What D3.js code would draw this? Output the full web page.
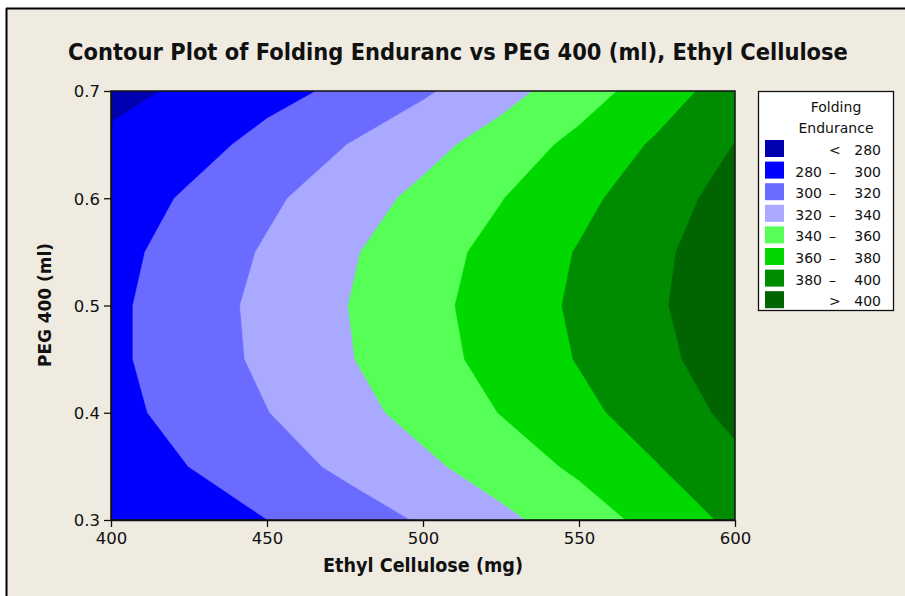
<!DOCTYPE html>
<html>
<head>
<meta charset="utf-8">
<script src="https://cdn.jsdelivr.net/npm/d3@7"></script>
<style>
  html, body { margin: 0; padding: 0; background: #ffffff; }
  svg { display: block; }
  text { font-family: "DejaVu Sans", Verdana, sans-serif; fill: #111; }
</style>
</head>
<body>
<svg id="chart" width="905" height="596"></svg>
<script>
// Design points of the response surface
const ethylCellulose = [400, 425, 450, 475, 500, 525, 550, 575, 600];   // mg
const peg400 = [0.30, 0.35, 0.40, 0.45, 0.50, 0.55, 0.60, 0.65, 0.70]; // ml

// Folding endurance on the grid, one row per PEG 400 level (low to high)
const enduranceAtPeg030 = [283.0, 289.8, 299.9, 310.6, 321.8, 335.4, 349.8, 366.8, 384.5];
const enduranceAtPeg035 = [289.4, 300.1, 311.7, 323.5, 335.9, 349.3, 363.6, 379.2, 395.6];
const enduranceAtPeg040 = [294.1, 306.7, 319.5, 332.9, 346.6, 360.6, 374.9, 389.5, 404.4];
const enduranceAtPeg045 = [296.1, 310.0, 324.0, 338.2, 352.4, 366.7, 381.1, 395.4, 409.7];
const enduranceAtPeg050 = [295.9, 310.5, 325.0, 339.4, 354.0, 368.6, 383.2, 397.8, 412.3];
const enduranceAtPeg055 = [293.9, 307.9, 322.1, 337.1, 351.6, 366.2, 381.2, 396.3, 411.5];
const enduranceAtPeg060 = [288.8, 302.6, 316.3, 330.4, 344.7, 359.3, 374.8, 391.1, 407.7];
const enduranceAtPeg065 = [283.5, 292.5, 306.1, 319.7, 333.5, 348.6, 365.3, 382.7, 400.5];
const enduranceAtPeg070 = [275.0, 283.0, 293.6, 303.8, 317.2, 332.8, 350.5, 370.0, 390.0];

// Contour levels and legend
const levels = [280, 300, 320, 340, 360, 380, 400];
const bandColors = ["#0000b0", "#0000ff", "#6b6bff", "#a9a9ff", "#55ff55", "#00d800", "#008c00", "#006400"];
const bandLow  = ["", "280", "300", "320", "340", "360", "380", ""];
const bandSym  = ["<", "–", "–", "–", "–", "–", "–", ">"];
const bandHigh = ["280", "300", "320", "340", "360", "380", "400", "400"];

const xTicks = [400, 450, 500, 550, 600];
const yTicks = [0.3, 0.4, 0.5, 0.6, 0.7];

const svg = d3.select("#chart");
const W = 905, H = 596;
const plot = { left: 111, right: 735, top: 91, bottom: 520 };

// Page frame
svg.append("rect").attr("x", 0).attr("y", 0).attr("width", W).attr("height", H).attr("fill", "#ffffff");
svg.append("rect").attr("x", 7).attr("y", 8).attr("width", W - 7).attr("height", H - 8).attr("fill", "#efebe1");
svg.append("line").attr("x1", 6).attr("x2", W).attr("y1", 8.5).attr("y2", 8.5).attr("stroke", "#000").attr("stroke-width", 2);
svg.append("line").attr("x1", 6.5).attr("x2", 6.5).attr("y1", 8).attr("y2", H).attr("stroke", "#000").attr("stroke-width", 2);

const x = d3.scaleLinear().domain([400, 600]).range([plot.left, plot.right]);
const y = d3.scaleLinear().domain([0.3, 0.7]).range([plot.bottom, plot.top]);

// Grid, row-major, rows by PEG level
const rows = [enduranceAtPeg030, enduranceAtPeg035, enduranceAtPeg040, enduranceAtPeg045,
              enduranceAtPeg050, enduranceAtPeg055, enduranceAtPeg060, enduranceAtPeg065, enduranceAtPeg070];
const nx = ethylCellulose.length, ny = peg400.length;
const values = rows.flat();

// Contour geometry has sample i at coordinate i + 0.5
const gx = d3.scaleLinear().domain([0.5, nx - 0.5]).range([ethylCellulose[0], ethylCellulose[nx - 1]]);
const gy = d3.scaleLinear().domain([0.5, ny - 0.5]).range([peg400[0], peg400[ny - 1]]);
const projection = d3.geoTransform({
  point(px, py) { this.stream.point(x(gx(px)), y(gy(py))); }
});
const path = d3.geoPath(projection);

const contours = d3.contours().size([nx, ny]).smooth(true)
  .thresholds([d3.min(values) - 1].concat(levels))(values);

svg.append("clipPath").attr("id", "plot-clip")
  .append("rect").attr("x", plot.left).attr("y", plot.top)
  .attr("width", plot.right - plot.left).attr("height", plot.bottom - plot.top);

svg.append("g").attr("clip-path", "url(#plot-clip)")
  .selectAll("path").data(contours).join("path")
  .attr("d", path)
  .attr("fill", (d, i) => bandColors[i])
  .attr("stroke", (d, i) => bandColors[i])
  .attr("stroke-width", 0.6);

// Plot frame
svg.append("rect").attr("x", plot.left).attr("y", plot.top)
  .attr("width", plot.right - plot.left).attr("height", plot.bottom - plot.top)
  .attr("fill", "none").attr("stroke", "#111").attr("stroke-width", 1.5);

// Axes
const xAxis = d3.axisBottom(x).tickValues(xTicks).tickSize(7).tickSizeOuter(0).tickPadding(4).tickFormat(d3.format("d"));
const yAxis = d3.axisLeft(y).tickValues(yTicks).tickSize(7).tickSizeOuter(0).tickPadding(4).tickFormat(d3.format(".1f"));

const gxAxis = svg.append("g").attr("transform", `translate(0,${plot.bottom})`).call(xAxis);
const gyAxis = svg.append("g").attr("transform", `translate(${plot.left},0)`).call(yAxis);
[gxAxis, gyAxis].forEach(g => {
  g.select(".domain").attr("stroke", "#111").attr("stroke-width", 1.5);
  g.selectAll(".tick line").attr("stroke", "#111").attr("stroke-width", 1.3);
  g.selectAll(".tick text").style("font-family", '"DejaVu Sans", sans-serif')
    .style("font-size", "16.5px").attr("fill", "#111");
});
gxAxis.selectAll(".tick text").attr("dy", "0.8em");
gyAxis.selectAll(".tick text").attr("dy", "0.36em");

// Bold titles drawn in a horizontally condensed face: measure, then scale to the target width
function condensedLabel(str, size, width, cx, cy, angle) {
  const g = svg.append("g").attr("transform", `translate(${cx},${cy}) rotate(${angle})`);
  const t = g.append("text").attr("text-anchor", "middle")
    .style("font-size", size + "px").style("font-weight", "bold").text(str);
  const natural = t.node().getComputedTextLength();
  t.attr("transform", `scale(${width / natural},1)`);
  return t;
}

condensedLabel("Contour Plot of Folding Enduranc vs PEG 400 (ml), Ethyl Cellulose", 23, 780, 458, 60, 0);
condensedLabel("Ethyl Cellulose (mg)", 19, 200, 423, 572, 0);
condensedLabel("PEG 400 (ml)", 18.5, 124, 51, 305, -90);

// Legend
const legend = svg.append("g");
legend.append("rect").attr("x", 758.5).attr("y", 91.5).attr("width", 135).attr("height", 219)
  .attr("fill", "#ffffff").attr("stroke", "#111").attr("stroke-width", 1.3);
legend.append("text").attr("x", 836).attr("y", 112).attr("text-anchor", "middle")
  .style("font-size", "14px").text("Folding");
legend.append("text").attr("x", 836).attr("y", 133).attr("text-anchor", "middle")
  .style("font-size", "14px").text("Endurance");

const rowsG = legend.selectAll("g.row").data(bandColors).join("g")
  .attr("class", "row")
  .attr("transform", (d, i) => `translate(0,${140 + i * 21.6})`);
rowsG.append("rect").attr("x", 765).attr("y", 0).attr("width", 19).attr("height", 17)
  .attr("fill", d => d);
rowsG.append("text").attr("x", 822).attr("y", 15).attr("text-anchor", "end")
  .style("font-size", "14px").text((d, i) => bandLow[i]);
rowsG.append("text").attr("x", 829).attr("y", 15)
  .style("font-size", "14px").text((d, i) => bandSym[i]);
rowsG.append("text").attr("x", 881).attr("y", 15).attr("text-anchor", "end")
  .style("font-size", "14px").text((d, i) => bandHigh[i]);
</script>
</body>
</html>
